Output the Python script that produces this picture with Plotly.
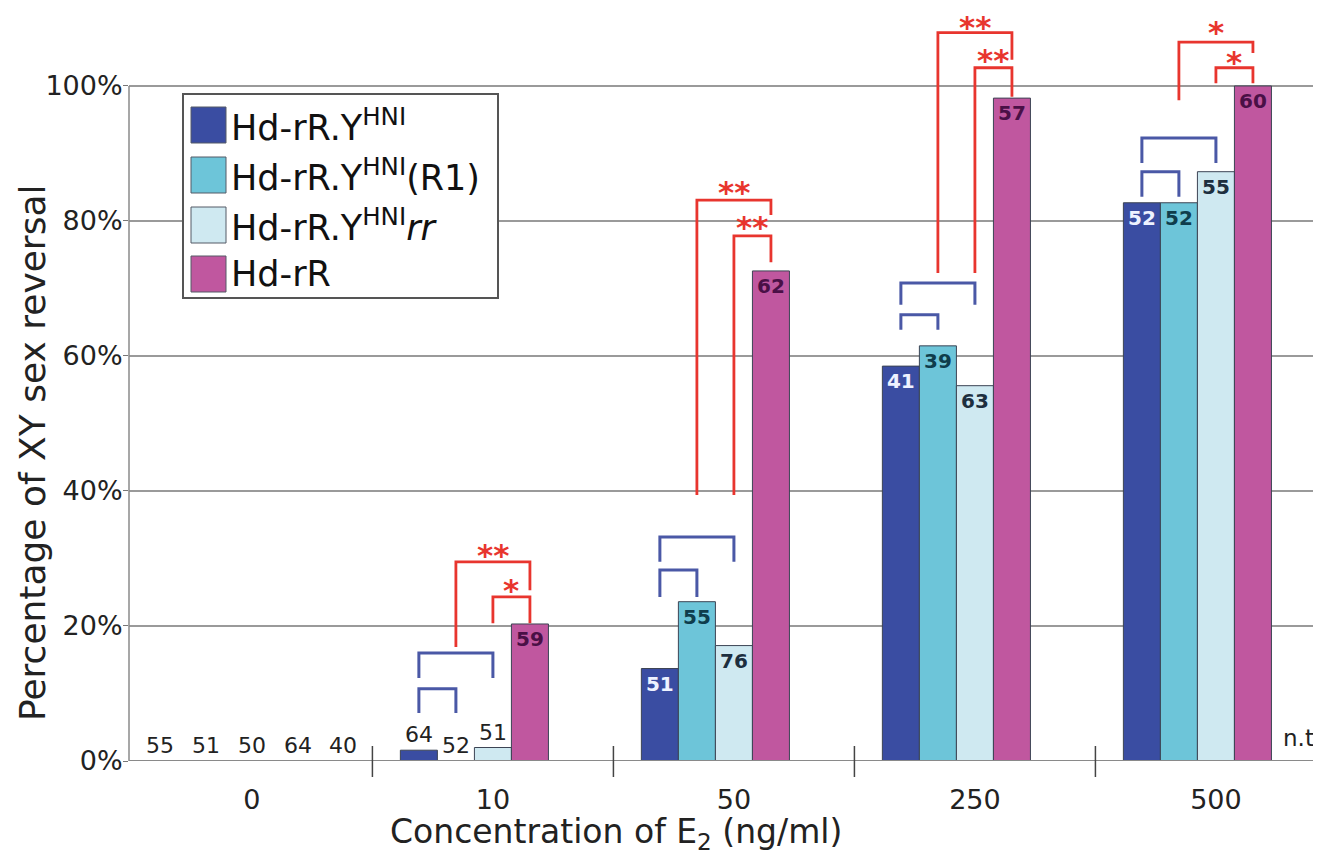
import plotly.graph_objects as go

# ---------------- data ----------------
categories = ["0", "10", "50", "250", "500"]
series_names = [
    "Hd-rR.Y<sup>HNI</sup>",
    "Hd-rR.Y<sup>HNI</sup>(R1)",
    "Hd-rR.Y<sup>HNI</sup><i>rr</i>",
    "Hd-rR",
]
pct_hni = [0, 1.6, 13.7, 58.5, 82.7]
pct_r1 = [0, 0, 23.6, 61.5, 82.7]
pct_rr = [0, 2.0, 17.1, 55.6, 87.3]
pct_hdrr = [0, 20.3, 72.6, 98.2, 100]

n_hni = ["55", "64", "51", "41", "52"]
n_r1 = ["51", "52", "55", "39", "52"]
n_rr = ["50", "51", "76", "63", "55"]
n_hdrr = ["64", "59", "62", "57", "60"]
n_fifth = ["40", "", "", "", "n.t"]

y_tick_vals = [0, 20, 40, 60, 80, 100]
y_tick_text = ["0%", "20%", "40%", "60%", "80%", "100%"]

# significance brackets: (group, left slot, right slot, top %, left end %, right end %)
blue_brackets = [
    (1, 0, 1, 10.7, 7.1, 7.1),
    (1, 0, 2, 16.0, 12.3, 12.3),
    (2, 0, 1, 28.3, 24.3, 24.3),
    (2, 0, 2, 33.2, 29.5, 29.5),
    (3, 0, 1, 66.1, 63.9, 63.9),
    (3, 0, 2, 70.8, 67.6, 67.6),
    (4, 0, 1, 87.3, 83.6, 83.6),
    (4, 0, 2, 92.3, 88.6, 88.6),
]
red_brackets = [
    (1, 1, 3, 29.5, 16.9, 25.3, "**", 31.6),
    (1, 2, 3, 24.3, 20.4, 20.4, "*", 26.4),
    (2, 1, 3, 83.1, 39.4, 80.9, "**", 85.3),
    (2, 2, 3, 77.8, 39.4, 73.9, "**", 80.1),
    (3, 1, 3, 107.9, 72.3, 103.9, "**", 109.7),
    (3, 2, 3, 102.7, 72.3, 98.4, "**", 104.9),
    (4, 1, 3, 106.5, 97.9, 104.9, "*", 109.0),
    (4, 2, 3, 102.7, 100.4, 100.4, "*", 104.6),
]

# ---------------- style ----------------
FONT = "DejaVu Sans"
colors = ["#3a4da2", "#6dc5d9", "#cfe9f1", "#c0579f"]
inside_colors = ["#eef2ff", "#0f3d4c", "#1d2f3f", "#4a1046"]
BLUE_BR = "#4a58a6"
RED_BR = "#e8352e"
BARGAP = 0.232
NSLOTS = 5
SLOT_W = (1 - BARGAP) / NSLOTS

OFF = 8  # page body margin
W, H = 1321 - OFF, 860 - OFF
ML, MR, MT, MB = 129 - OFF, 0, 0, 99
PW, PH = W - ML - MR, H - MT - MB
Y_TOP = 111.55
X_RANGE = [-0.51, 4.436]


def slot_x(group, slot):
    return group + (slot - (NSLOTS - 1) / 2) * SLOT_W


def pxx(xs):  # screen pixel -> paper x
    return (xs - OFF - ML) / PW


def pxy(ys):  # screen pixel -> paper y
    return (H - MB - (ys - OFF)) / PH


fig = go.Figure()
xs = list(range(len(categories)))
all_pct = [pct_hni, pct_r1, pct_rr, pct_hdrr]
all_n = [n_hni, n_r1, n_rr, n_hdrr]
for k in range(4):
    texts, pos = [], []
    for g in xs:
        if g == 0:
            texts.append(None)
            pos.append("none")
        elif all_pct[k][g] < 5:
            texts.append(all_n[k][g])
            pos.append("outside")
        else:
            texts.append(all_n[k][g])
            pos.append("inside")
    fig.add_trace(go.Bar(
        x=xs, y=all_pct[k], name=series_names[k], showlegend=False,
        marker=dict(color=colors[k], line=dict(color="#3c4454", width=1)),
        text=texts, textposition=pos, insidetextanchor="end", textangle=0,
        insidetextfont=dict(family=FONT, size=20, color=inside_colors[k], weight="bold"),
        outsidetextfont=dict(family=FONT, size=22, color="#222222"),
        cliponaxis=False, constraintext="none",
    ))
# invisible fifth slot keeps the grouping of five columns
fig.add_trace(go.Bar(x=xs, y=[0, 0, 0, 0, 0], showlegend=False, hoverinfo="skip",
                     marker=dict(color="rgba(0,0,0,0)", line=dict(width=0))))

annotations = []
shapes = []

# labels at concentration 0 (all zero bars)
group0_n = [n_hni[0], n_r1[0], n_rr[0], n_hdrr[0], n_fifth[0]]
for i, t in enumerate(group0_n):
    annotations.append(dict(
        x=0 + (i - 2) * 0.19, y=0, xref="x", yref="y", text=t, showarrow=False,
        yanchor="bottom", yshift=1, font=dict(family=FONT, size=22, color="#222222")))
# "n.t" in fifth slot at 500
annotations.append(dict(x=slot_x(4, 4), y=0, xref="x", yref="y", text=n_fifth[4],
                        showarrow=False, yanchor="bottom", yshift=8, xshift=9,
                        font=dict(family=FONT, size=23, color="#222222")))

# brackets
for g, a, b, top, le, re_ in blue_brackets:
    x0, x1 = slot_x(g, a), slot_x(g, b)
    shapes.append(dict(type="path", xref="x", yref="y",
                       path=f"M {x0},{le} L {x0},{top} L {x1},{top} L {x1},{re_}",
                       line=dict(color=BLUE_BR, width=3)))
for g, a, b, top, le, re_, star, sy in red_brackets:
    x0, x1 = slot_x(g, a), slot_x(g, b)
    shapes.append(dict(type="path", xref="x", yref="y",
                       path=f"M {x0},{le} L {x0},{top} L {x1},{top} L {x1},{re_}",
                       line=dict(color=RED_BR, width=2.8)))
    annotations.append(dict(x=(x0 + x1) / 2, y=sy, xref="x", yref="y", text=star,
                            showarrow=False, yanchor="middle", yshift=-7,
                            font=dict(family=FONT, size=31, color=RED_BR, weight="bold")))

# axis lines and group separators
shapes.append(dict(type="line", xref="paper", yref="y", x0=0, x1=1, y0=0, y1=0,
                   line=dict(color="#8a8a8a", width=2)))
shapes.append(dict(type="line", xref="paper", yref="y", x0=0, x1=0, y0=0, y1=100,
                   line=dict(color="#8a8a8a", width=1.5)))
for g in range(len(categories) - 1):
    shapes.append(dict(type="line", xref="x", yref="paper", x0=g + 0.5, x1=g + 0.5,
                       y0=pxy(777), y1=pxy(746), line=dict(color="#444444", width=1.5)))

# custom legend
shapes.append(dict(type="rect", xref="paper", yref="paper",
                   x0=pxx(183), x1=pxx(498), y0=pxy(298), y1=pxy(94),
                   fillcolor="white", line=dict(color="#555555", width=2)))
row_y = [125, 175, 225, 274]
for k in range(4):
    shapes.append(dict(type="rect", xref="paper", yref="paper",
                       x0=pxx(191), x1=pxx(226), y0=pxy(row_y[k] + 18), y1=pxy(row_y[k] - 18),
                       fillcolor=colors[k], line=dict(color="#555a66", width=1)))
    annotations.append(dict(x=pxx(229), y=pxy(row_y[k]), xref="paper", yref="paper",
                            text=series_names[k], showarrow=False, xanchor="left",
                            yanchor="middle", font=dict(family=FONT, size=35, color="#111111")))

# axis titles
annotations.append(dict(x=pxx(616), y=pxy(834), xref="paper", yref="paper",
                        text="Concentration of E<sub>2</sub> (ng/ml)", showarrow=False,
                        xanchor="center", yanchor="middle",
                        font=dict(family=FONT, size=33, color="#222222")))
annotations.append(dict(x=pxx(33), y=pxy(453), xref="paper", yref="paper",
                        text="Percentage of XY sex reversal", showarrow=False, textangle=-90,
                        xanchor="center", yanchor="middle",
                        font=dict(family=FONT, size=36, color="#222222")))

fig.update_layout(
    width=W, height=H,
    margin=dict(l=ML, r=MR, t=MT, b=MB, autoexpand=False),
    paper_bgcolor="white", plot_bgcolor="white",
    barmode="group", bargap=BARGAP, bargroupgap=0,
    showlegend=False,
    font=dict(family=FONT, color="#222222"),
    shapes=shapes, annotations=annotations,
    xaxis=dict(range=X_RANGE, tickvals=xs, ticktext=categories, showgrid=False,
               zeroline=False, showline=False, ticks="", ticklabelstandoff=20,
               tickfont=dict(family=FONT, size=27, color="#222222")),
    yaxis=dict(range=[0, Y_TOP], tickvals=y_tick_vals, ticktext=y_tick_text,
               showgrid=True, gridcolor="#9a9a9a", gridwidth=1.5, zeroline=False,
               showline=False, ticks="outside", ticklen=5, tickcolor="#777777",
               ticklabelstandoff=-5,
               tickfont=dict(family=FONT, size=27, color="#222222")),
)

fig.write_html("out.html")
